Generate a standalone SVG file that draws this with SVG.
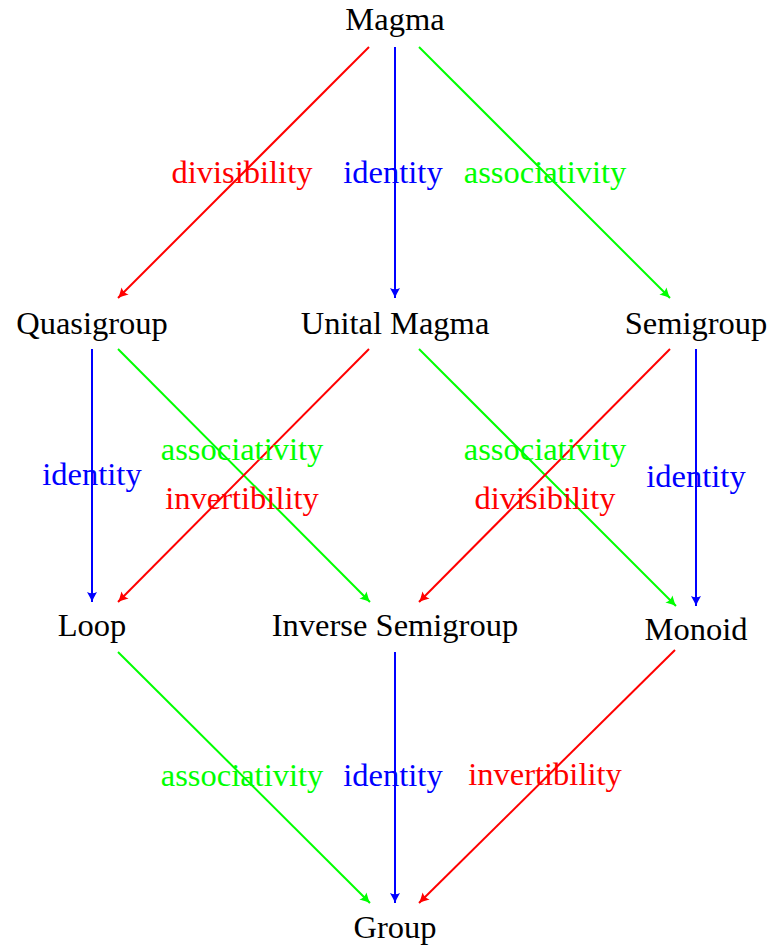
<svg xmlns="http://www.w3.org/2000/svg" width="771" height="945" viewBox="0 0 771 945">
<style>
text{font-family:"Liberation Serif","Times New Roman",serif;font-size:32.5px;text-anchor:middle}
.n{fill:#000}
.r{fill:#ff0000}.g{fill:#00ff00}.b{fill:#0000ff}
line{stroke-width:2;fill:none}
.lr{stroke:#ff0000}.lg{stroke:#00ff00}.lb{stroke:#0000ff}
</style>
<defs>
<marker id="ar" viewBox="-10 -8 14 16" markerWidth="14" markerHeight="16" refX="1" refY="0" orient="auto" markerUnits="userSpaceOnUse">
<path d="M-9,-5 Q-3,-1.5 1,0 Q-3,1.5 -9,5 Q-6.5,0 -9,-5 Z" fill="#ff0000"/>
</marker>
<marker id="ag" viewBox="-10 -8 14 16" markerWidth="14" markerHeight="16" refX="1" refY="0" orient="auto" markerUnits="userSpaceOnUse">
<path d="M-9,-5 Q-3,-1.5 1,0 Q-3,1.5 -9,5 Q-6.5,0 -9,-5 Z" fill="#00ff00"/>
</marker>
<marker id="ab" viewBox="-10 -8 14 16" markerWidth="14" markerHeight="16" refX="1" refY="0" orient="auto" markerUnits="userSpaceOnUse">
<path d="M-9,-5 Q-3,-1.5 1,0 Q-3,1.5 -9,5 Q-6.5,0 -9,-5 Z" fill="#0000ff"/>
</marker>
</defs>
<g id="connectors">
<line class="lr" x1="369" y1="47" x2="118" y2="298" marker-end="url(#ar)"/>
<line class="lb" x1="395" y1="47" x2="395" y2="298" marker-end="url(#ab)"/>
<line class="lg" x1="419" y1="47" x2="670" y2="298" marker-end="url(#ag)"/>
<line class="lb" x1="92" y1="349" x2="92" y2="602" marker-end="url(#ab)"/>
<line class="lg" x1="118" y1="349" x2="370" y2="602" marker-end="url(#ag)"/>
<line class="lr" x1="369" y1="349" x2="118" y2="602" marker-end="url(#ar)"/>
<line class="lg" x1="419" y1="349" x2="676" y2="606" marker-end="url(#ag)"/>
<line class="lr" x1="670" y1="349" x2="419" y2="602" marker-end="url(#ar)"/>
<line class="lb" x1="696" y1="349" x2="696" y2="606" marker-end="url(#ab)"/>
<line class="lg" x1="118" y1="652" x2="370" y2="903" marker-end="url(#ag)"/>
<line class="lb" x1="395" y1="652" x2="395" y2="903" marker-end="url(#ab)"/>
<line class="lr" x1="675" y1="650" x2="419" y2="903" marker-end="url(#ar)"/>
<text class="r" x="242" y="183">divisibility</text>
<text class="b" x="393" y="183">identity</text>
<text class="g" x="545" y="183">associativity</text>
<text class="b" x="92" y="485">identity</text>
<text class="g" x="242" y="460">associativity</text>
<text class="r" x="242" y="509">invertibility</text>
<text class="g" x="545" y="460">associativity</text>
<text class="r" x="545" y="509">divisibility</text>
<text class="b" x="696" y="487">identity</text>
<text class="g" x="242" y="786">associativity</text>
<text class="b" x="393" y="786">identity</text>
<text class="r" x="545" y="785">invertibility</text>
</g>
<g id="magma"><text class="n" x="395" y="30">Magma</text></g>
<g id="quasigroup"><text class="n" x="92" y="334">Quasigroup</text></g>
<g id="unital-magma"><text class="n" x="395" y="334">Unital Magma</text></g>
<g id="semigroup"><text class="n" x="696" y="334">Semigroup</text></g>
<g id="loop"><text class="n" x="92" y="636">Loop</text></g>
<g id="inverse-semigroup"><text class="n" x="395" y="636">Inverse Semigroup</text></g>
<g id="monoid"><text class="n" x="696" y="640">Monoid</text></g>
<g id="group"><text class="n" x="395" y="938">Group</text></g>
</svg>
